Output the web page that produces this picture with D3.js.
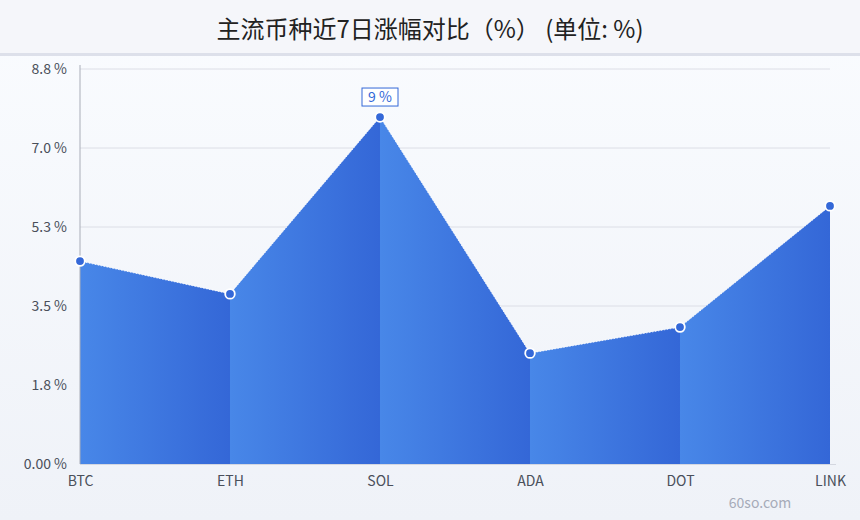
<!DOCTYPE html>
<html>
<head>
<meta charset="utf-8">
<script src="https://cdn.jsdelivr.net/npm/d3@7"></script>
<style>
  html, body { margin: 0; padding: 0; }
  body { width: 860px; height: 520px; overflow: hidden; font-family: "Noto Sans CJK SC", "Noto Sans", sans-serif; }
</style>
</head>
<body>
<svg id="chart" width="860" height="520"></svg>
<script>
const categories = ["BTC", "ETH", "SOL", "ADA", "DOT", "LINK"];
const values = [4.52, 3.79, 7.73, 2.47, 3.05, 5.75];
const yTicks = [0, 1.76, 3.52, 5.28, 7.04, 8.8];
const yTickLabels = ["0.00 %", "1.8 %", "3.5 %", "5.3 %", "7.0 %", "8.8 %"];
const title = "主流币种近7日涨幅对比（%） (单位: %)";
const peakLabel = "9 %";
const watermark = "60so.com";

const W = 860, H = 520;
const FONT = "'Noto Sans CJK SC', 'Noto Sans', sans-serif";
const margin = { left: 80, right: 30, top: 69, bottom: 56 };
const svg = d3.select("#chart").attr("font-family", FONT);
const defs = svg.append("defs");

// backgrounds
const bg = defs.append("linearGradient").attr("id", "bg").attr("x1", 0).attr("y1", 0).attr("x2", 0).attr("y2", 1);
bg.append("stop").attr("offset", "0%").attr("stop-color", "#fafcff");
bg.append("stop").attr("offset", "100%").attr("stop-color", "#eff2f8");
svg.append("rect").attr("x", 0).attr("y", 0).attr("width", W).attr("height", H).attr("fill", "url(#bg)");
svg.append("rect").attr("x", 0).attr("y", 0).attr("width", W).attr("height", 53).attr("fill", "#f5f6fa");
svg.append("rect").attr("x", 0).attr("y", 53).attr("width", W).attr("height", 3).attr("fill", "#dde0ea");

svg.append("text").attr("x", W / 2).attr("y", 38).attr("text-anchor", "middle")
  .attr("font-size", 24).attr("fill", "#222").text(title);

const x = d3.scalePoint().domain(categories).range([margin.left, W - margin.right]);
const y = d3.scaleLinear().domain([0, 8.8]).range([H - margin.bottom, margin.top]);

// grid
svg.append("g").selectAll("line").data(yTicks.slice(1)).join("line")
  .attr("x1", margin.left).attr("x2", W - margin.right)
  .attr("y1", d => y(d)).attr("y2", d => y(d))
  .attr("stroke", "#dcdee6").attr("stroke-width", 1);

// segment gradient
const sg = defs.append("linearGradient").attr("id", "seg").attr("x1", 0).attr("y1", 0).attr("x2", 1).attr("y2", 0);
sg.append("stop").attr("offset", "0%").attr("stop-color", "#4887e8");
sg.append("stop").attr("offset", "100%").attr("stop-color", "#3467d7");

const data = categories.map((c, i) => ({ c, v: values[i] }));
const area = d3.area().x(d => x(d.c)).y0(y(0)).y1(d => y(d.v));
const segs = d3.pairs(data);
svg.append("g").selectAll("path").data(segs).join("path")
  .attr("d", d => area(d))
  .attr("fill", "url(#seg)");

// top outline
const line = d3.line().x(d => x(d.c)).y(d => y(d.v));
svg.append("path").attr("d", line(data)).attr("fill", "none")
  .attr("stroke", "#ffffff").attr("stroke-width", 1).attr("stroke-dasharray", "1.5,1.5").attr("opacity", 0.8);

// axes
const yAxis = d3.axisLeft(y).tickValues(yTicks).tickFormat((d, i) => yTickLabels[i]).tickSize(0).tickPadding(13);
const gy = svg.append("g").attr("transform", `translate(${margin.left},0)`).call(yAxis);
gy.select(".domain").remove();
gy.selectAll("text").attr("font-size", 14).attr("fill", "#4a4f5a").attr("font-family", FONT);
svg.append("line").attr("x1", margin.left).attr("x2", margin.left).attr("y1", 65).attr("y2", y(0))
  .attr("stroke", "#a9adb8").attr("stroke-width", 1);

const xAxis = d3.axisBottom(x).tickSize(0).tickPadding(12);
const gx = svg.append("g").attr("transform", `translate(0,${y(0)})`).call(xAxis);
gx.select(".domain").remove();
gx.selectAll("text").attr("font-size", 14).attr("fill", "#4a4f5a").attr("font-family", FONT);
svg.append("line").attr("x1", margin.left).attr("x2", W - margin.right + 6).attr("y1", y(0) + 0.5).attr("y2", y(0) + 0.5)
  .attr("stroke", "#d4d7e0").attr("stroke-width", 1);

// markers
svg.append("g").selectAll("circle").data(data).join("circle")
  .attr("cx", d => x(d.c)).attr("cy", d => y(d.v)).attr("r", 4.8)
  .attr("fill", "#3468d8").attr("stroke", "#ffffff").attr("stroke-width", 1.8);

// peak label
const peak = data.reduce((a, b) => (b.v > a.v ? b : a));
const lg = svg.append("g").attr("transform", `translate(${x(peak.c)},${y(peak.v) - 20})`);
lg.append("rect").attr("x", -18).attr("y", -9).attr("width", 36).attr("height", 18)
  .attr("fill", "#ffffff").attr("stroke", "#3468d8").attr("stroke-width", 1);
lg.append("text").attr("x", 0).attr("y", 5).attr("text-anchor", "middle")
  .attr("font-size", 14).attr("fill", "#3468d8").attr("font-family", FONT).text(peakLabel);

svg.append("text").attr("x", 760).attr("y", 508).attr("text-anchor", "middle")
  .attr("font-size", 14).attr("fill", "#a6abb8").attr("font-family", FONT).text(watermark);
</script>
</body>
</html>
